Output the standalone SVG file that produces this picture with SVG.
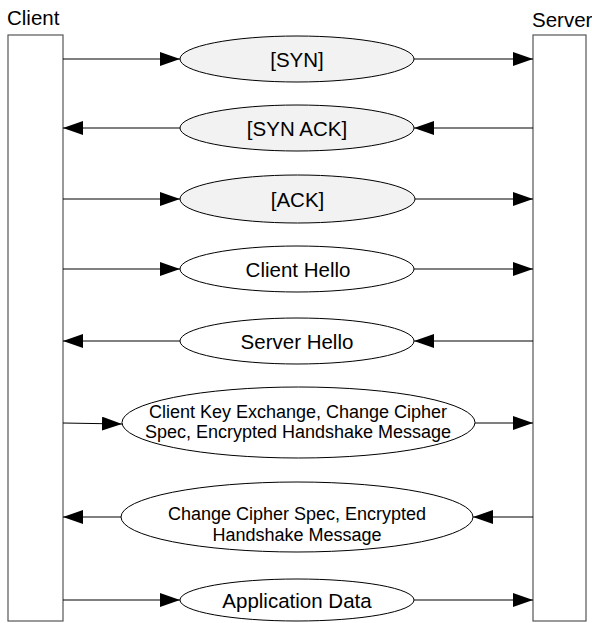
<svg xmlns="http://www.w3.org/2000/svg" width="592" height="623" viewBox="0 0 592 623">
  <style>
    text { font-family: "Liberation Sans", Arial, sans-serif; fill: #000; }
    .lbl { font-size: 20.5px; }
    .lbl2 { font-size: 18px; }
    .mid { text-anchor: middle; }
    .life { fill: #fff; stroke: #555; stroke-width: 1.2; }
    .msg { stroke: #000; stroke-width: 1; }
    .hs { fill: #f2f2f2; }
    .app { fill: #fff; }
    .conn { stroke: #000; stroke-width: 1; fill: none; marker-end: url(#arrow); }
  </style>
  <defs>
    <marker id="arrow" markerUnits="userSpaceOnUse" markerWidth="20" markerHeight="14" refX="20" refY="7" orient="auto">
      <path d="M0,0 L20,7 L0,14 Z" fill="#000"/>
    </marker>
  </defs>

  <!-- lifelines -->
  <g id="client">
    <rect class="life" x="8" y="35" width="55" height="586"/>
    <text class="lbl" x="7" y="25">Client</text>
  </g>
  <g id="server">
    <rect class="life" x="533" y="35" width="53" height="586"/>
    <text class="lbl" x="532" y="27">Server</text>
  </g>

  <!-- message connectors -->
  <g id="connectors">
    <line class="conn" x1="63" y1="59" x2="180" y2="59"/>
    <line class="conn" x1="414" y1="59" x2="533" y2="59"/>

    <line class="conn" x1="180" y1="128" x2="63" y2="128"/>
    <line class="conn" x1="533" y1="128" x2="414" y2="128"/>

    <line class="conn" x1="63" y1="199" x2="180" y2="199"/>
    <line class="conn" x1="415" y1="199" x2="533" y2="199"/>

    <line class="conn" x1="63" y1="269" x2="180" y2="269"/>
    <line class="conn" x1="414" y1="269" x2="533" y2="269"/>

    <line class="conn" x1="180" y1="341" x2="63" y2="341"/>
    <line class="conn" x1="533" y1="341" x2="414" y2="341"/>

    <line class="conn" x1="63" y1="423" x2="122" y2="424"/>
    <line class="conn" x1="475" y1="423" x2="533" y2="423"/>

    <line class="conn" x1="121" y1="517" x2="63" y2="517"/>
    <line class="conn" x1="533" y1="517" x2="473" y2="517"/>

    <line class="conn" x1="63" y1="600" x2="180" y2="600"/>
    <line class="conn" x1="414" y1="600" x2="533" y2="600"/>
  </g>

  <!-- messages -->
  <g id="syn">
    <ellipse class="msg hs" cx="297" cy="59" rx="117" ry="23"/>
    <text class="lbl mid" x="297" y="66.5">[SYN]</text>
  </g>
  <g id="syn-ack">
    <ellipse class="msg hs" cx="297" cy="128" rx="117" ry="23"/>
    <text class="lbl mid" x="297" y="135.5">[SYN ACK]</text>
  </g>
  <g id="ack">
    <ellipse class="msg hs" cx="297.5" cy="199" rx="117.5" ry="24"/>
    <text class="lbl mid" x="297.5" y="207">[ACK]</text>
  </g>
  <g id="client-hello">
    <ellipse class="msg app" cx="297" cy="269" rx="117" ry="23"/>
    <text class="lbl mid" x="298" y="277">Client Hello</text>
  </g>
  <g id="server-hello">
    <ellipse class="msg app" cx="297" cy="341" rx="117" ry="23"/>
    <text class="lbl mid" x="297" y="349">Server Hello</text>
  </g>
  <g id="client-key-exchange">
    <ellipse class="msg app" cx="298.5" cy="422.5" rx="176.5" ry="35.5"/>
    <text class="lbl2 mid" x="298" y="418">Client Key Exchange, Change Cipher</text>
    <text class="lbl2 mid" x="298" y="438">Spec, Encrypted Handshake Message</text>
  </g>
  <g id="change-cipher-spec">
    <ellipse class="msg app" cx="297" cy="517" rx="176" ry="35"/>
    <text class="lbl2 mid" x="297" y="520">Change Cipher Spec, Encrypted</text>
    <text class="lbl2 mid" x="297" y="541">Handshake Message</text>
  </g>
  <g id="application-data">
    <ellipse class="msg app" cx="297" cy="600" rx="117" ry="21"/>
    <text class="lbl mid" x="297" y="607.5">Application Data</text>
  </g>
</svg>
